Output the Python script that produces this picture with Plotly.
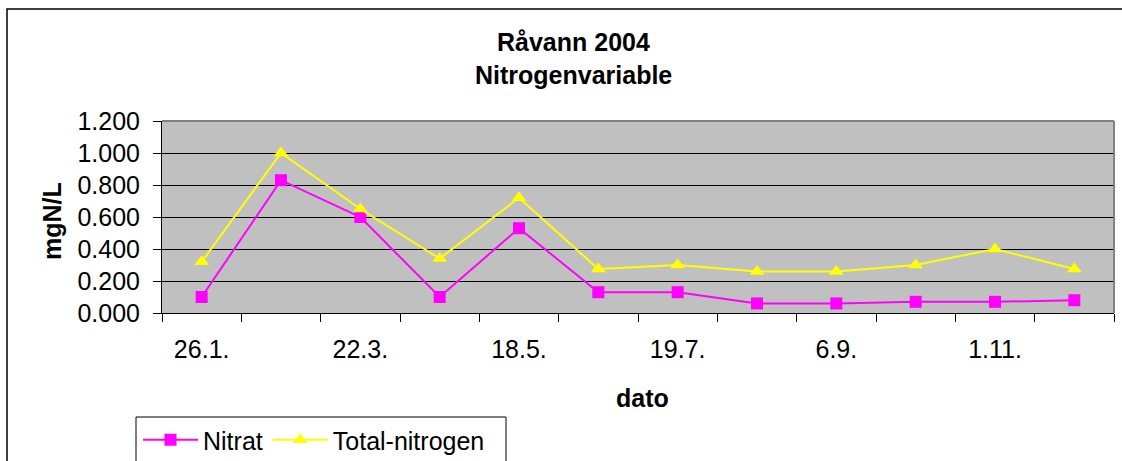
import plotly.graph_objects as go

# Sample index (12 sampling dates), labels shown on every other date
sample_idx = list(range(12))
tick_labels = ["26.1.", "22.3.", "18.5.", "19.7.", "6.9.", "1.11."]

nitrat = [0.10, 0.83, 0.60, 0.10, 0.53, 0.13, 0.13, 0.06, 0.06, 0.07, 0.07, 0.08]
total_nitrogen = [0.32, 1.00, 0.65, 0.34, 0.72, 0.275, 0.30, 0.26, 0.26, 0.30, 0.40, 0.275]

FONT = "Liberation Sans, Arial, sans-serif"
FS = 25
W, H = 1122, 461
L, R, T, B = 162, 1114, 121, 313  # plot area in pixels


def px(x):
    return (x - L) / (R - L)


def py(y):
    return (B - y) / (B - T)


fig = go.Figure()
fig.add_trace(go.Scatter(
    x=sample_idx, y=nitrat, name="Nitrat", mode="lines+markers",
    line=dict(color="#FF00FF", width=2),
    marker=dict(symbol="square", size=12, color="#FF00FF"),
))
fig.add_trace(go.Scatter(
    x=sample_idx, y=total_nitrogen, name="Total-nitrogen", mode="lines+markers",
    line=dict(color="#FFFF00", width=2),
    marker=dict(symbol="triangle-up", size=13, color="#FFFF00"),
))

fig.update_layout(
    width=W, height=H,
    margin=dict(l=L, r=W - R, t=T, b=H - B, autoexpand=False),
    paper_bgcolor="white", plot_bgcolor="#C0C0C0",
    font=dict(family=FONT, size=FS, color="black"),
    showlegend=True,
    legend=dict(
        orientation="h", x=px(138), y=py(417), xanchor="left", yanchor="top",
        bgcolor="rgba(0,0,0,0)", borderwidth=0,
        font=dict(size=FS), itemwidth=55, tracegroupgap=0,
    ),
    xaxis=dict(
        range=[-0.5, 11.5], showgrid=False, zeroline=False,
        showline=True, linecolor="black", linewidth=1,
        tickmode="array", tickvals=sample_idx[::2], ticktext=tick_labels,
        ticks="", ticklabelstandoff=14,
        minor=dict(tickmode="array",
                   tickvals=[i - 0.5 for i in range(13)],
                   ticks="outside", ticklen=8, tickcolor="black", tickwidth=1,
                   showgrid=False),
    ),
    yaxis=dict(
        range=[0, 1.2], tickmode="linear", tick0=0, dtick=0.2, tickformat=".3f",
        showgrid=True, gridcolor="black", gridwidth=1, zeroline=False,
        showline=True, linecolor="black", linewidth=1,
        ticks="outside", ticklen=8, tickcolor="black", ticklabelstandoff=8,
    ),
    shapes=[
        # outer chart frame
        dict(type="rect", xref="paper", yref="paper",
             x0=px(7), x1=px(1130), y0=py(480), y1=py(9),
             line=dict(color="black", width=1.5), fillcolor="rgba(0,0,0,0)"),
        # plot area border (top and right)
        dict(type="line", xref="paper", yref="paper", x0=0, x1=1, y0=1, y1=1,
             line=dict(color="#808080", width=2)),
        dict(type="line", xref="paper", yref="paper", x0=1, x1=1, y0=0, y1=1,
             line=dict(color="#808080", width=2)),
        # legend box
        dict(type="rect", xref="paper", yref="paper",
             x0=px(136), x1=px(506), y0=py(475), y1=py(417),
             line=dict(color="black", width=1), fillcolor="rgba(0,0,0,0)"),
    ],
    annotations=[
        dict(text="<b>Råvann 2004</b>", xref="paper", yref="paper",
             x=px(573), y=py(42), xanchor="center", yanchor="middle",
             showarrow=False, font=dict(size=FS)),
        dict(text="<b>Nitrogenvariable</b>", xref="paper", yref="paper",
             x=px(573), y=py(75), xanchor="center", yanchor="middle",
             showarrow=False, font=dict(size=FS)),
        dict(text="<b>mgN/L</b>", xref="paper", yref="paper", textangle=-90,
             x=px(52), y=py(221), xanchor="center", yanchor="middle",
             showarrow=False, font=dict(size=FS)),
        dict(text="<b>dato</b>", xref="paper", yref="paper",
             x=px(642), y=py(398), xanchor="center", yanchor="middle",
             showarrow=False, font=dict(size=FS)),
    ],
)

fig.write_html("out.html")
